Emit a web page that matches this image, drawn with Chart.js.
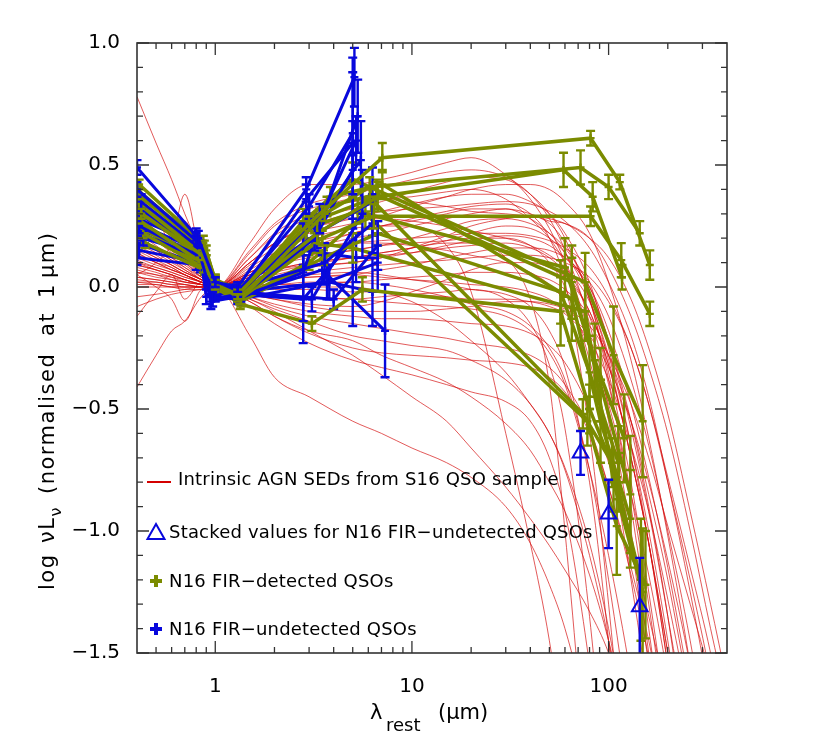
<!DOCTYPE html>
<html>
<head>
<meta charset="utf-8">
<script src="https://cdn.jsdelivr.net/npm/chart.js@4.4.1/dist/chart.umd.min.js"></script>
<style>
  html, body { margin: 0; padding: 0; background: #fff; }
  #wrap { width: 822px; height: 741px; }
</style>
</head>
<body>
<div id="wrap"><canvas id="sed" width="822" height="741"></canvas></div>
<script>
// ---- data ----

// wavelength grid (micron) shared by the intrinsic AGN SEDs
const redLam = [0.4, 0.5, 0.6, 0.7, 0.85, 1, 1.5, 2, 3, 5, 7, 10, 15, 20, 30, 40, 50, 60, 80, 100, 130, 160, 200, 260, 330, 400];

// S16 intrinsic AGN SEDs, log nuLnu normalised at 1 micron
const redSeds = [
  [0.78,0.59,0.44,0.30,0.14,0, 0.05,0.10,0.16,0.22,0.25,0.27, 0.30,0.32,0.32,0.28,0.22,0.14, -0.05,-0.30,-0.70,-1.05,-1.50,-2.10,-2.70,-3.20],
  [-0.41,-0.28,-0.18,-0.14,-0.04,0, -0.02,-0.03,-0.04,-0.05,-0.06,-0.07, -0.08,-0.09,-0.12,-0.18,-0.27,-0.40, -0.75,-1.10,-1.60,-2.10,-2.70,-3.40,-4.00,-4.50],
  [0.02,0.01,0.0,-0.01,-0.01,0, -0.20,-0.37,-0.45,-0.55,-0.60,-0.66, -0.72,-0.78,-0.90,-1.05,-1.22,-1.40, -1.80,-2.20,-2.80,-3.40,-4.00,-4.60,-5.20,-5.80],
  [0.05,0.0,-0.05,-0.14,-0.01,0, -0.05,-0.09,-0.14,-0.20,-0.22,-0.24, -0.26,-0.30,-0.38,-0.48,-0.60,-0.75, -1.10,-1.45,-2.00,-2.60,-3.20,-3.90,-4.50,-5.00],
  [0.05,0.10,0.18,0.38,0.10,0, 0.03,0.06,0.09,0.12,0.14,0.16, 0.19,0.22,0.25,0.24,0.20,0.14, -0.02,-0.22,-0.55,-0.90,-1.35,-2.00,-2.60,-3.20],
  [0.10,0.07,0.05,0.03,0.01,0, 0.18,0.32,0.42,0.42,0.44,0.47, 0.51,0.53,0.46,0.36,0.24,0.10, -0.20,-0.55,-1.05,-1.55,-2.10,-2.80,-3.50,-4.00],
  [0.15,0.11,0.08,0.05,0.02,0, 0.14,0.25,0.32,0.35,0.36,0.37, 0.39,0.40,0.36,0.28,0.20,0.10, -0.12,-0.40,-0.85,-1.30,-1.85,-2.50,-3.10,-3.60],
  [0.08,0.06,0.04,0.03,0.01,0, 0.06,0.11,0.16,0.20,0.22,0.25, 0.28,0.30,0.32,0.30,0.27,0.26, 0.20,0.08,-0.12,-0.33,-0.60,-1.00,-1.40,-1.70],
  [0.18,0.14,0.10,0.07,0.03,0, 0.02,0.03,0.04,0.05,0.07,0.09, 0.12,0.14,0.16,0.16,0.15,0.12, 0.02,-0.12,-0.38,-0.65,-1.00,-1.45,-1.95,-2.40],
  [0.12,0.09,0.07,0.05,0.02,0, -0.03,-0.05,-0.08,-0.10,-0.10,-0.10, -0.09,-0.08,-0.06,-0.06,-0.07,-0.09, -0.16,-0.28,-0.48,-0.70,-0.98,-1.30,-1.60,-1.90],
  [0.20,0.15,0.11,0.08,0.03,0, 0.03,0.05,0.08,0.10,0.12,0.14, 0.17,0.19,0.21,0.20,0.17,0.12, 0.00,-0.18,-0.48,-0.78,-1.15,-1.65,-2.10,-2.60],
  [0.06,0.04,0.03,0.02,0.01,0, 0.0,0.0,0.0,0.0,-0.02,-0.06, -0.14,-0.22,-0.35,-0.48,-0.60,-0.74, -1.05,-1.40,-1.95,-2.50,-3.10,-3.80,-4.40,-5.00],
  [0.03,0.02,0.01,0.0,0.0,0, -0.06,-0.12,-0.18,-0.22,-0.28,-0.33, -0.39,-0.45,-0.56,-0.67,-0.80,-0.92, -1.18,-1.45,-1.85,-2.30,-2.85,-3.50,-4.20,-4.80],
  [0.0,0.0,0.0,0.0,0.0,0, 0.04,0.07,0.10,0.12,0.14,0.16, 0.18,0.18,0.12,-0.05,-0.40,-1.00, -2.20,-3.40,-4.50,-5.50,-6.50,-7.50,-8.50,-9.50],
  [0.09,0.07,0.05,0.03,0.01,0, -0.02,-0.03,-0.04,-0.05,-0.04,-0.03, -0.02,-0.01,-0.05,-0.15,-0.32,-0.58, -1.35,-2.20,-3.40,-4.50,-5.50,-6.50,-7.50,-8.50],
  [0.04,0.03,0.02,0.01,0.0,0, -0.05,-0.10,-0.18,-0.28,-0.36,-0.45, -0.55,-0.66,-0.82,-0.95,-1.06,-1.16, -1.33,-1.50,-1.80,-2.10,-2.50,-3.00,-3.60,-4.20],
  [0.14,0.10,0.07,0.05,0.02,0, 0.08,0.14,0.20,0.24,0.25,0.25, 0.17,-0.02,-0.60,-1.05,-1.45,-1.90, -2.80,-3.60,-4.60,-5.60,-6.50,-7.50,-8.50,-9.50],
  [0.22,0.17,0.12,0.09,0.04,0, 0.10,0.18,0.24,0.28,0.31,0.34, 0.37,0.38,0.38,0.35,0.30,0.22, 0.02,-0.25,-0.65,-1.05,-1.55,-2.20,-2.90,-3.50],
  [0.16,0.12,0.09,0.06,0.03,0, 0.05,0.09,0.13,0.15,0.17,0.20, 0.24,0.27,0.28,0.26,0.22,0.16, 0.00,-0.22,-0.58,-0.92,-1.35,-1.90,-2.50,-3.00],
  [0.10,0.08,0.06,0.04,0.02,0, 0.01,0.01,0.02,0.02,0.03,0.04, 0.05,0.06,0.06,0.05,0.03,-0.01, -0.12,-0.28,-0.55,-0.85,-1.20,-1.70,-2.20,-2.70],
  [0.25,0.19,0.14,0.10,0.04,0, 0.12,0.21,0.28,0.32,0.35,0.39, 0.43,0.45,0.44,0.38,0.30,0.20, -0.05,-0.35,-0.80,-1.25,-1.80,-2.50,-3.20,-3.80],
  [0.07,0.05,0.04,0.02,0.01,0, -0.06,-0.12,-0.19,-0.25,-0.27,-0.28, -0.29,-0.30,-0.31,-0.33,-0.37,-0.43, -0.60,-0.82,-1.15,-1.45,-1.85,-2.40,-3.00,-3.60],
  [0.13,0.10,0.07,0.05,0.02,0, 0.02,0.04,0.06,0.08,0.09,0.10, 0.11,0.12,0.13,0.13,0.12,0.10, 0.04,-0.06,-0.25,-0.48,-0.80,-1.20,-1.60,-2.00],
  [0.19,0.15,0.11,0.07,0.03,0, 0.06,0.10,0.15,0.18,0.19,0.20, 0.21,0.22,0.22,0.21,0.19,0.16, 0.08,-0.04,-0.25,-0.48,-0.78,-1.15,-1.50,-1.85],
  [0.01,0.01,0.0,0.0,0.0,0, -0.04,-0.07,-0.10,-0.12,-0.13,-0.13, -0.14,-0.15,-0.16,-0.19,-0.24,-0.31, -0.50,-0.72,-1.05,-1.35,-1.70,-2.20,-2.80,-3.30],
  [0.24,0.28,0.15,0.10,0.05,0, 0.02,0.03,0.04,0.05,0.04,0.03, 0.02,0.01,0.0,-0.02,-0.05,-0.10, -0.20,-0.33,-0.55,-0.80,-1.12,-1.55,-2.00,-2.45],
  [0.30,0.23,0.17,0.12,0.05,0, 0.15,0.26,0.34,0.38,0.41,0.44, 0.47,0.48,0.45,0.38,0.28,0.15, -0.15,-0.50,-1.00,-1.50,-2.10,-2.80,-3.50,-4.10],
  [0.17,0.13,0.09,0.06,0.03,0, 0.07,0.13,0.18,0.22,0.25,0.28, 0.31,0.33,0.34,0.30,0.20,0.02, -0.60,-1.30,-2.30,-3.30,-4.30,-5.30,-6.30,-7.30],
  [0.11,0.08,0.06,0.04,0.02,0, 0.04,0.07,0.10,0.12,0.13,0.14, 0.16,0.17,0.18,0.16,0.12,0.06, -0.10,-0.32,-0.70,-1.05,-1.55,-2.20,-2.80,-3.40],
  [0.21,0.16,0.12,0.08,0.04,0, 0.0,-0.01,-0.01,-0.02,-0.02,-0.03, -0.04,-0.05,-0.05,-0.06,-0.08,-0.11, -0.22,-0.38,-0.65,-0.92,-1.28,-1.75,-2.25,-2.75],
  [-0.08,-0.05,-0.03,-0.02,-0.01,0, 0.0,0.01,0.01,0.02,0.01,-0.01, -0.04,-0.07,-0.10,-0.16,-0.25,-0.38, -0.75,-1.20,-1.85,-2.50,-3.20,-4.00,-4.80,-5.50],
  [0.35,0.27,0.20,0.14,0.06,0, 0.10,0.18,0.24,0.28,0.28,0.27, 0.25,0.23,0.20,0.17,0.13,0.08, -0.06,-0.28,-0.65,-1.00,-1.45,-2.05,-2.65,-3.20],
  [0.04,0.03,0.02,0.01,0.0,0, -0.03,-0.05,-0.07,-0.08,-0.06,-0.02, 0.03,0.07,0.10,0.10,0.08,0.04, -0.10,-0.32,-0.70,-1.05,-1.50,-2.10,-2.70,-3.30],
  [0.28,0.21,0.16,0.11,0.05,0, 0.04,0.07,0.09,0.10,0.12,0.16, 0.21,0.25,0.28,0.29,0.26,0.18, -0.05,-0.38,-0.90,-1.40,-2.00,-2.70,-3.40,-4.00],
  [-0.04,-0.03,-0.02,-0.01,0.0,0, -0.08,-0.15,-0.23,-0.30,-0.33,-0.36, -0.40,-0.43,-0.47,-0.55,-0.70,-0.92, -1.55,-2.20,-3.10,-4.00,-5.00,-6.00,-7.00,-8.00],
  [0.14,0.10,0.08,0.05,0.02,0, 0.10,0.18,0.25,0.30,0.31,0.32, 0.33,0.34,0.35,0.34,0.31,0.27, 0.16,0.02,-0.20,-0.45,-0.80,-1.25,-1.70,-2.10],
  [0.09,0.07,0.05,0.03,0.01,0, 0.06,0.11,0.15,0.18,0.18,0.17, 0.15,0.13,0.10,0.06,0.01,-0.06, -0.25,-0.48,-0.85,-1.18,-1.60,-2.20,-2.80,-3.40],
  [-0.12,-0.02,0.05,-0.05,0.02,0, -0.04,-0.08,-0.12,-0.15,-0.17,-0.19, -0.21,-0.23,-0.25,-0.28,-0.33,-0.40, -0.58,-0.82,-1.18,-1.52,-1.95,-2.55,-3.20,-3.80],
  [0.06,0.05,0.03,0.02,0.01,0, 0.09,0.16,0.22,0.26,0.29,0.33, 0.37,0.40,0.42,0.42,0.40,0.35, 0.22,0.02,-0.30,-0.62,-1.02,-1.55,-2.10,-2.60],
  [0.33,0.25,0.22,0.27,0.08,0, 0.05,0.09,0.12,0.15,0.17,0.18, 0.19,0.20,0.20,0.17,0.10,0.0, -0.30,-0.65,-1.20,-1.70,-2.40,-3.10,-3.80,-4.40],
  [0.02,0.02,0.01,0.01,0.0,0, 0.02,0.04,0.05,0.06,0.05,0.03, 0.01,-0.01,-0.03,-0.08,-0.18,-0.33, -0.80,-1.45,-2.40,-3.30,-4.30,-5.30,-6.30,-7.30],
  [0.16,0.12,0.09,0.06,0.03,0, 0.12,0.22,0.30,0.36,0.36,0.35, 0.33,0.31,0.30,0.29,0.28,0.26, 0.20,0.12,-0.05,-0.25,-0.52,-0.92,-1.30,-1.62]
];

// N16 FIR-detected QSOs (wavelength, value, 1-sigma error)
const detLam = [
  [0.42, 0.86, 1.0, 1.30, 3.0, 7.07, 81, 114, 162],
  [0.40, 0.88, 1.0, 1.35, 3.6, 6.1, 72, 100, 144],
  [0.41, 0.84, 1.0, 1.30, 3.3, 6.7, 59, 83, 117],
  [0.40, 0.85, 1.0, 1.33, 3.5, 6.4, 81, 116, 162],
  [0.43, 0.87, 1.0, 1.34, 3.1, 5.6, 57, 80, 113],
  [0.40, 0.86, 1.0, 1.30, 3.85, 7.07, 65, 91, 129],
  [0.42, 0.83, 1.0, 1.32, 2.8, 5.0, 76, 106, 149],
  [0.44, 0.88, 1.0, 1.35, 3.55, 6.7, 57, 80, 112],
  [0.40, 0.85, 1.0, 1.30, 3.2, 5.0, 76, 106, 149],
  [0.41, 0.87, 1.0, 1.30, 3.4, 6.2, 74, 104, 146],
  [0.43, 0.86, 1.0, 1.32, 3.0, 5.8, 78, 110, 154],
  [0.40, 0.84, 1.0, 1.30, 3.7, 6.6, 65, 91, 129],
  [0.42, 0.90, 1.0, 1.33, 2.9, 5.3, 60, 85, 120]
];
const detVal = [
  [0.30, 0.13, 0.01, -0.03, 0.26, 0.53, 0.61, 0.43, 0.09],
  [0.38, 0.16, 0.02, -0.05, 0.30, 0.41, 0.49, 0.41, 0.22],
  [0.34, 0.14, 0.00, -0.04, 0.22, 0.37, 0.48, 0.37, 0.04],
  [0.28, 0.10, 0.01, -0.05, 0.20, 0.29, 0.29, 0.11, -0.11],
  [0.22, 0.08, 0.00, -0.07, -0.15, -0.01, -0.10, -0.50, -0.80],
  [0.40, 0.17, 0.03, -0.02, 0.37, 0.42, -0.05, -0.55, -0.95],
  [0.26, 0.11, 0.00, -0.04, 0.27, 0.44, 0.02, -0.28, -0.55],
  [0.18, 0.07, -0.01, -0.06, 0.12, 0.22, -0.02, -0.35, -0.72],
  [0.32, 0.12, 0.01, -0.03, 0.18, 0.16, -0.10, -0.80, -1.25],
  [0.42, 0.18, 0.03, -0.01, 0.28, 0.36, -0.52, -0.72, -1.20],
  [0.24, 0.09, 0.00, -0.05, 0.10, 0.30, -0.55, -0.98, -1.22],
  [0.36, 0.15, 0.02, -0.03, 0.33, 0.38, 0.02, -0.40, -0.85],
  [0.20, 0.15, 0.02, -0.02, 0.24, 0.31, 0.08, -0.30, -0.62]
];
const detErr = [
  [0.02, 0.02, 0.02, 0.02, 0.03, 0.06, 0.03, 0.03, 0.06],
  [0.02, 0.03, 0.02, 0.02, 0.03, 0.04, 0.07, 0.05, 0.05],
  [0.02, 0.02, 0.02, 0.02, 0.04, 0.06, 0.07, 0.06, 0.05],
  [0.02, 0.02, 0.02, 0.02, 0.03, 0.05, 0.04, 0.07, 0.05],
  [0.02, 0.02, 0.02, 0.02, 0.03, 0.05, 0.14, 0.10, 0.12],
  [0.02, 0.02, 0.02, 0.02, 0.04, 0.06, 0.17, 0.17, 0.20],
  [0.02, 0.02, 0.02, 0.02, 0.05, 0.07, 0.12, 0.20, 0.23],
  [0.02, 0.02, 0.02, 0.02, 0.03, 0.05, 0.13, 0.15, 0.15],
  [0.02, 0.02, 0.02, 0.02, 0.04, 0.06, 0.12, 0.12, 0.26],
  [0.02, 0.03, 0.02, 0.02, 0.04, 0.05, 0.06, 0.10, 0.25],
  [0.02, 0.02, 0.02, 0.02, 0.03, 0.06, 0.10, 0.20, 0.22],
  [0.02, 0.02, 0.02, 0.02, 0.04, 0.06, 0.15, 0.15, 0.24],
  [0.02, 0.02, 0.02, 0.02, 0.04, 0.05, 0.12, 0.15, 0.18]
];

// N16 FIR-undetected QSOs
const undLam = [
  [0.40, 0.82, 1.0, 1.30, 2.9, 5.1],
  [0.40, 0.80, 1.0, 1.30, 3.0, 5.0],
  [0.42, 0.81, 0.97, 1.30, 3.4, 5.2],
  [0.40, 0.83, 1.0, 1.35, 3.2, 5.0],
  [0.41, 0.86, 1.0, 1.30, 2.8, 5.3],
  [0.40, 0.80, 1.0, 1.28, 3.6, 6.3],
  [0.43, 0.84, 0.90, 1.30, 3.1, 5.6],
  [0.40, 0.81, 1.0, 1.32, 4.0, 6.7],
  [0.42, 0.82, 1.0, 1.30, 3.5, 7.3],
  [0.40, 0.80, 1.0, 1.30, 2.8, 5.0],
  [0.40, 0.83, 1.0, 1.30, 3.3, 6.3],
  [0.41, 0.85, 1.0, 1.34, 3.7, 6.7],
  [0.40, 0.80, 0.95, 1.30, 2.9, 5.0],
  [0.40, 0.84, 1.0, 1.30, 3.8, 6.3],
  [0.42, 0.81, 1.0, 1.36, 3.2, 5.5],
  [0.40, 0.82, 1.0, 1.30, 2.8, 5.2]
];
const undVal = [
  [0.49, 0.20, 0.02, 0.00, 0.40, 0.86],
  [0.40, 0.19, 0.01, -0.02, 0.33, 0.63],
  [0.35, 0.17, -0.05, -0.03, 0.28, 0.60],
  [0.30, 0.16, 0.00, -0.04, 0.20, 0.48],
  [0.25, 0.12, -0.04, -0.05, 0.06, 0.70],
  [0.28, 0.18, 0.01, -0.01, 0.10, 0.26],
  [0.20, 0.13, -0.04, -0.02, -0.05, 0.30],
  [0.33, 0.16, 0.00, -0.02, -0.05, 0.17],
  [0.22, 0.12, -0.02, -0.04, 0.07, -0.18],
  [0.18, 0.10, 0.00, -0.03, -0.05, 0.19],
  [0.26, 0.15, 0.01, -0.01, 0.22, 0.35],
  [0.15, 0.10, -0.01, -0.05, 0.02, 0.10],
  [0.38, 0.21, -0.06, -0.04, 0.36, 0.59],
  [0.12, 0.09, 0.00, -0.02, 0.02, -0.02],
  [0.30, 0.17, 0.02, 0.00, 0.25, 0.52],
  [0.24, 0.14, 0.00, -0.03, 0.15, 0.12]
];
const undErr = [
  [0.03, 0.03, 0.02, 0.02, 0.05, 0.12],
  [0.03, 0.03, 0.02, 0.02, 0.05, 0.25],
  [0.03, 0.03, 0.03, 0.02, 0.06, 0.10],
  [0.03, 0.03, 0.02, 0.02, 0.05, 0.20],
  [0.03, 0.02, 0.02, 0.02, 0.20, 0.15],
  [0.03, 0.03, 0.02, 0.02, 0.08, 0.12],
  [0.03, 0.02, 0.03, 0.02, 0.05, 0.18],
  [0.03, 0.03, 0.02, 0.02, 0.04, 0.10],
  [0.03, 0.03, 0.02, 0.02, 0.06, 0.19],
  [0.03, 0.03, 0.02, 0.02, 0.18, 0.35],
  [0.03, 0.03, 0.02, 0.02, 0.06, 0.14],
  [0.03, 0.03, 0.02, 0.02, 0.07, 0.12],
  [0.03, 0.03, 0.03, 0.02, 0.06, 0.35],
  [0.03, 0.03, 0.02, 0.02, 0.07, 0.14],
  [0.03, 0.03, 0.02, 0.02, 0.05, 0.16],
  [0.03, 0.03, 0.02, 0.02, 0.06, 0.10]
];

// stacked values for the FIR-undetected QSOs
const stackLam = [72, 100, 144];
const stackVal = [-0.68, -0.93, -1.31];
const stackErrHi = [0.09, 0.14, 0.20];
const stackErrLo = [0.09, 0.14, 0.35];

// axes
const xTickVals = [1, 10, 100];
const yTickVals = [-1.5, -1.0, -0.5, 0.0, 0.5, 1.0];

const legendLabels = [
  'Intrinsic AGN SEDs from S16 QSO sample',
  'Stacked values for N16 FIR\u2212undetected QSOs',
  'N16 FIR\u2212detected QSOs',
  'N16 FIR\u2212undetected QSOs'
];

// ---- styling ----
const RED = 'rgba(212, 10, 10, 0.85)';
const GREEN = '#7b8b00';
const BLUE = '#0808dc';
const FONT = 'DejaVu Sans';

function pts(lams, vals) {
  return lams.map((x, i) => ({ x: x, y: vals[i] }));
}

function qsoSet(name, lams, vals, errs, color, width) {
  return {
    label: name,
    data: pts(lams, vals),
    borderColor: color,
    borderWidth: width,
    pointStyle: 'cross',
    pointRadius: 4,
    pointBorderWidth: 2.4,
    pointBorderColor: color,
    errHi: errs,
    errLo: errs,
    errColor: color,
    errWidth: 2.4
  };
}

const datasets = [];

// datasets earlier in the list are drawn on top
datasets.push({
  label: 'stack',
  data: pts(stackLam, stackVal),
  showLine: false,
  pointStyle: 'triangle',
  pointRadius: 9,
  pointBorderWidth: 2,
  pointBorderColor: BLUE,
  pointBackgroundColor: 'rgba(0,0,0,0)',
  errHi: stackErrHi,
  errLo: stackErrLo,
  errColor: BLUE,
  errWidth: 2.4
});

// blue and green objects interleaved, as they overlap in the figure
const nQso = Math.max(undLam.length, detLam.length);
for (let k = 0; k < nQso; k++) {
  if (k < undLam.length) datasets.push(qsoSet('und' + k, undLam[k], undVal[k], undErr[k], BLUE, 3));
  if (k < detLam.length) datasets.push(qsoSet('det' + k, detLam[k], detVal[k], detErr[k], GREEN, 3.5));
}

redSeds.forEach((row, k) => {
  datasets.push({
    label: 'sed' + k,
    data: pts(redLam, row),
    borderColor: RED,
    borderWidth: 0.8,
    pointRadius: 0,
    cubicInterpolationMode: 'monotone'
  });
});

// error bars, drawn right after their own dataset
const errorBarPlugin = {
  id: 'errorBars',
  afterDatasetDraw(chart, args) {
    const ds = chart.data.datasets[args.index];
    if (!ds.errHi) return;
    const { ctx, chartArea: a } = chart;
    const yScale = chart.scales.y;
    const cap = 4.5;
    ctx.save();
    ctx.beginPath();
    ctx.rect(a.left, a.top, a.right - a.left, a.bottom - a.top);
    ctx.clip();
    ctx.strokeStyle = ds.errColor;
    ctx.lineWidth = ds.errWidth;
    ctx.beginPath();
    args.meta.data.forEach((el, i) => {
      const p = ds.data[i];
      const yHi = yScale.getPixelForValue(p.y + ds.errHi[i]);
      const yLo = yScale.getPixelForValue(p.y - ds.errLo[i]);
      ctx.moveTo(el.x, yHi); ctx.lineTo(el.x, yLo);
      ctx.moveTo(el.x - cap, yHi); ctx.lineTo(el.x + cap, yHi);
      ctx.moveTo(el.x - cap, yLo); ctx.lineTo(el.x + cap, yLo);
    });
    ctx.stroke();
    ctx.restore();
  }
};

// IDL-style box with inward ticks, axis titles and the in-plot legend
const decorPlugin = {
  id: 'decor',
  afterDraw(chart) {
    const { ctx, chartArea: a } = chart;
    const xs = chart.scales.x, ys = chart.scales.y;
    ctx.save();

    ctx.strokeStyle = '#333';
    ctx.lineWidth = 1.6;
    ctx.strokeRect(a.left, a.top, a.right - a.left, a.bottom - a.top);

    ctx.lineWidth = 1.3;
    ctx.beginPath();
    for (let k = -15; k <= 10; k++) {
      const py = ys.getPixelForValue(k / 10);
      const len = k % 5 === 0 ? 12 : 6;
      ctx.moveTo(a.left, py); ctx.lineTo(a.left + len, py);
      ctx.moveTo(a.right, py); ctx.lineTo(a.right - len, py);
    }
    [0.1, 1, 10, 100].forEach(dec => {
      for (let m = 1; m <= 9; m++) {
        const v = dec * m;
        if (v < 0.41 || v > 399) continue;
        const px = xs.getPixelForValue(v);
        const len = m === 1 ? 12 : 6;
        ctx.moveTo(px, a.bottom); ctx.lineTo(px, a.bottom - len);
        ctx.moveTo(px, a.top); ctx.lineTo(px, a.top + len);
      }
    });
    ctx.stroke();

    // x title: lambda_rest (micron)
    ctx.fillStyle = '#000';
    ctx.textBaseline = 'alphabetic';
    ctx.textAlign = 'left';
    ctx.font = '21px "' + FONT + '"';
    ctx.fillText('\u03bb', 370, 719);
    ctx.fillText('(\u03bcm)', 438, 719);
    ctx.font = '18px "' + FONT + '"';
    ctx.fillText('rest', 386, 731);

    // y title: log nuL_nu (normalised at 1 micron), words placed along the axis
    ctx.save();
    ctx.translate(54, 0);
    ctx.rotate(-Math.PI / 2);
    ctx.font = '21px "' + FONT + '"';
    ctx.letterSpacing = '1.5px';
    ctx.fillText('log', -590, 0);
    ctx.fillText('\u03bdL', -543, 0);
    const wNuL = ctx.measureText('\u03bdL').width;
    ctx.fillText('(normalised', -494, 0);
    ctx.fillText('at', -336, 0);
    ctx.fillText('1', -298, 0);
    ctx.fillText('\u03bcm)', -278, 0);
    ctx.font = '16px "' + FONT + '"';
    ctx.fillText('\u03bd', -543 + wNuL, 7);
    ctx.restore();

    // legend
    ctx.font = '18px "' + FONT + '"';
    ctx.letterSpacing = '0.2px';
    ctx.strokeStyle = '#d40000';
    ctx.lineWidth = 2;
    ctx.beginPath();
    ctx.moveTo(147, 482); ctx.lineTo(171, 482);
    ctx.stroke();
    ctx.fillText(legendLabels[0], 178, 485);

    ctx.strokeStyle = BLUE;
    ctx.lineWidth = 2;
    ctx.beginPath();
    ctx.moveTo(156, 524); ctx.lineTo(164.5, 539); ctx.lineTo(147.5, 539); ctx.closePath();
    ctx.stroke();
    ctx.fillText(legendLabels[1], 169, 538);

    ctx.lineWidth = 4;
    ctx.strokeStyle = GREEN;
    ctx.beginPath();
    ctx.moveTo(150, 581); ctx.lineTo(162, 581);
    ctx.moveTo(156, 575); ctx.lineTo(156, 587);
    ctx.stroke();
    ctx.fillText(legendLabels[2], 169, 587);

    ctx.strokeStyle = BLUE;
    ctx.beginPath();
    ctx.moveTo(150, 629); ctx.lineTo(162, 629);
    ctx.moveTo(156, 623); ctx.lineTo(156, 635);
    ctx.stroke();
    ctx.fillText(legendLabels[3], 169, 635);

    ctx.restore();
  }
};

new Chart(document.getElementById('sed'), {
  type: 'line',
  data: { datasets: datasets },
  options: {
    responsive: false,
    animation: false,
    events: [],
    layout: { padding: { left: 0, right: 95, top: 43, bottom: 0 } },
    plugins: {
      legend: { display: false },
      tooltip: { enabled: false }
    },
    elements: {
      line: { tension: 0 }
    },
    scales: {
      x: {
        type: 'logarithmic',
        min: 0.4,
        max: 400,
        bounds: 'data',
        grid: { display: false },
        border: { display: false },
        afterBuildTicks: s => { s.ticks = xTickVals.map(v => ({ value: v })); },
        afterFit: s => { s.height = 88; },
        ticks: {
          autoSkip: false,
          maxRotation: 0,
          padding: 14,
          color: '#000',
          font: { family: FONT, size: 20 },
          callback: v => String(v)
        }
      },
      y: {
        type: 'linear',
        min: -1.5,
        max: 1.0,
        bounds: 'data',
        grid: { display: false },
        border: { display: false },
        afterBuildTicks: s => { s.ticks = yTickVals.map(v => ({ value: v })); },
        afterFit: s => { s.width = 137; },
        ticks: {
          padding: 9,
          color: '#000',
          font: { family: FONT, size: 20 },
          callback: v => (v < 0 ? '\u2212' : '') + Math.abs(v).toFixed(1)
        }
      }
    }
  },
  plugins: [errorBarPlugin, decorPlugin]
});
</script>
</body>
</html>
